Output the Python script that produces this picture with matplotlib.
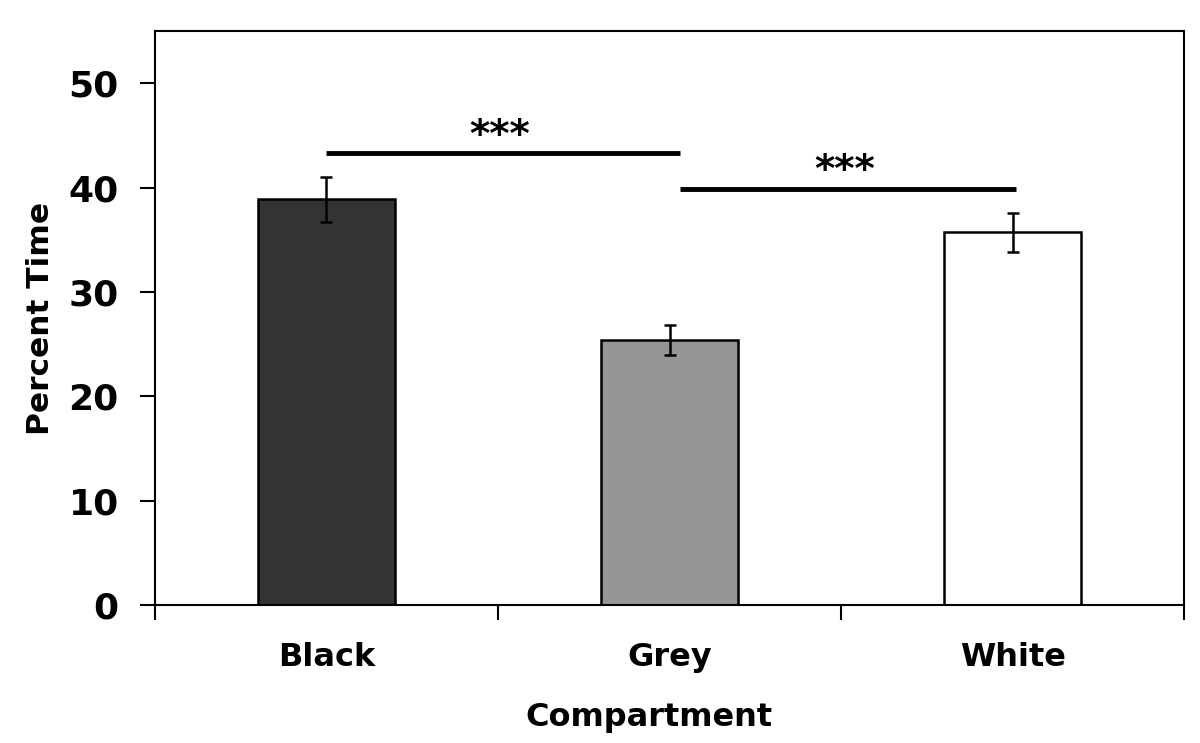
import matplotlib
matplotlib.use("Agg")
import matplotlib.pyplot as plt
import numpy as np

categories = ["Black", "Grey", "White"]
values = [38.9, 25.4, 35.7]
errors = [2.15, 1.45, 1.85]
colors = ["#333333", "#969696", "#ffffff"]
yticks = [0, 10, 20, 30, 40, 50]
# significance bars: (x start, x end, y level, label)
sig_bars = [(0.0, 1.03, 43.3, "***"), (1.03, 2.01, 39.9, "***")]

plt.rcParams['font.family'] = ['DejaVu Sans']
plt.rcParams['font.weight'] = 'bold'

fig = plt.figure(figsize=(12, 7.43), dpi=100)
ax = fig.add_axes([0.129, 0.186, 0.858, 0.772])

x = np.arange(len(categories))
ax.bar(x, values, width=0.4, color=colors, edgecolor="black", linewidth=1.8, zorder=2)
ax.errorbar(x, values, yerr=errors, fmt="none", ecolor="black", elinewidth=1.8,
            capsize=4.5, capthick=1.8, zorder=3)

for x0, x1, y, txt in sig_bars:
    ax.plot([x0, x1], [y, y], color="black", linewidth=3.5, solid_capstyle="butt", zorder=3)
    ax.text((x0 + x1) / 2 - 0.01, y + 0.6, txt, ha="center", va="baseline",
            fontsize=28, fontweight="bold")

ax.set_xlim(-0.5, 2.5)
ax.set_ylim(0, 55)
ax.set_yticks(yticks)
ax.set_yticklabels([str(t) for t in yticks], fontsize=26, fontweight="bold")
ax.set_xticks([-0.5, 0.5, 1.5, 2.5])
ax.set_xticklabels([])
ax.set_xticks(x, minor=True)
ax.set_xticklabels(categories, minor=True, fontsize=23, fontweight="bold")
ax.tick_params(axis="x", which="minor", length=0, pad=27)
ax.tick_params(axis="x", which="major", length=11, width=1.5, direction="out")
ax.tick_params(axis="y", length=11, width=1.5, direction="out", pad=15)
for s in ax.spines.values():
    s.set_linewidth(1.5)

ax.set_ylabel("Percent Time", fontsize=22.5, fontweight="bold", labelpad=10)
ax.set_xlabel("Compartment", fontsize=23, fontweight="bold")
ax.xaxis.set_label_coords(0.48, -0.17)

fig.savefig("out.png", dpi=100)
